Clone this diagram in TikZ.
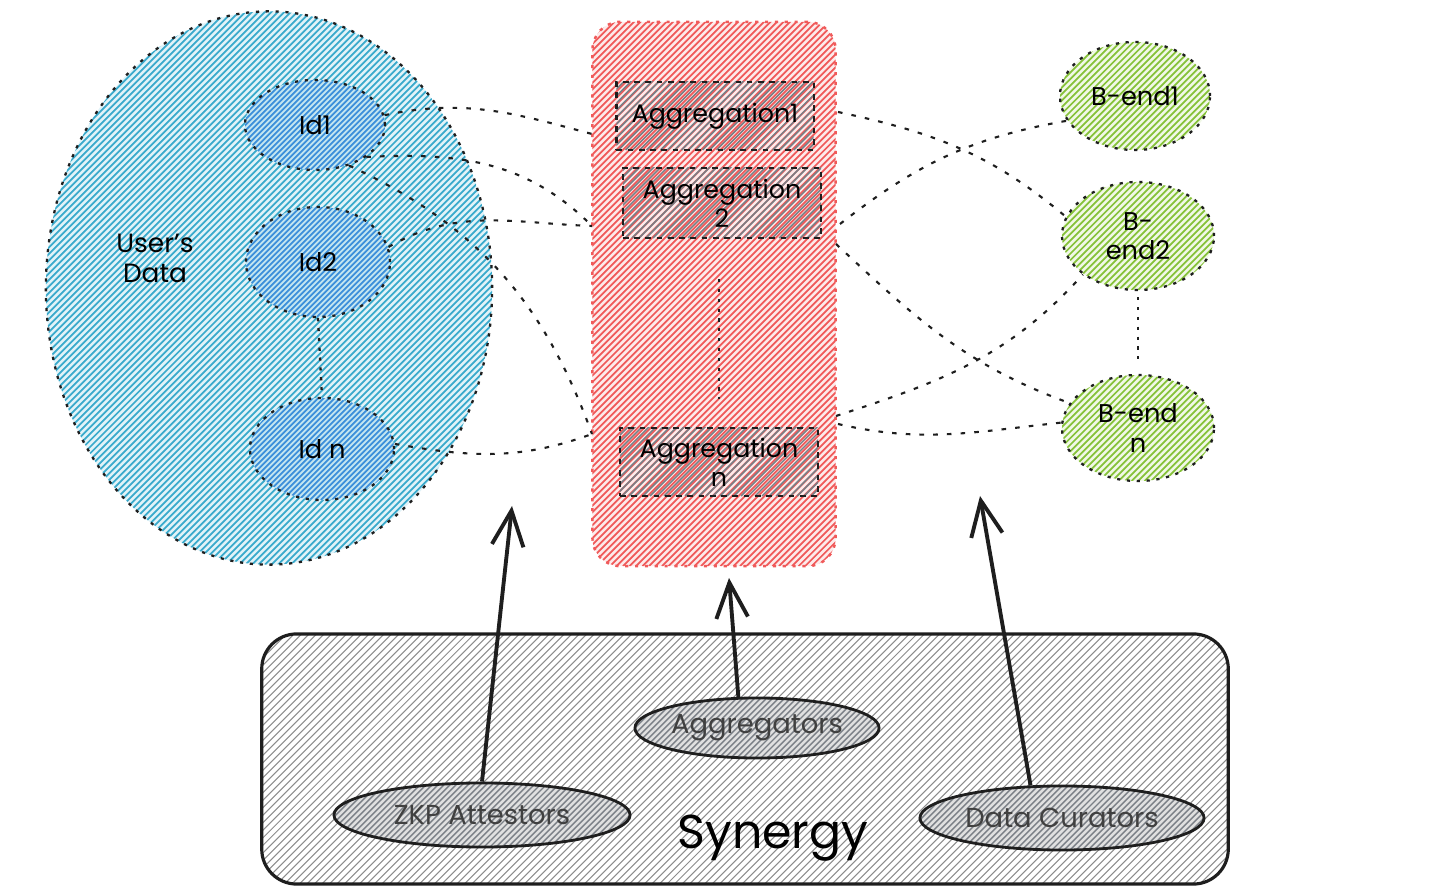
\documentclass[tikz,border=0pt]{standalone}
\usepackage{fontspec}
\setmainfont{Poppins}
\usepackage{tikz}
\usetikzlibrary{shapes.geometric, arrows.meta, calc}
\definecolor{Cyanish}  {HTML}{3AAACC}
\definecolor{CyanTint} {HTML}{E2F3F8}
\definecolor{Blueish}  {HTML}{3C8FDA}
\definecolor{Redish}   {HTML}{F05A5A}
\definecolor{RedTint}  {HTML}{FDEBEB}
\definecolor{Greenish} {HTML}{86C23A}
\definecolor{GreenTint}{HTML}{F1F8E7}
\definecolor{Greyish}  {HTML}{7A7F86}
\definecolor{Ink}      {HTML}{1E1E1E}

\tikzset{
  hatch/.style n args={4}{fill=#2, path picture={
      \foreach \k in {0,...,240}
        \draw[#1, solid, line width=#4] ([xshift=\k*#3cm-6cm]path picture bounding box.south west) -- ++(6cm,6cm);
    }},
  dotline/.style={draw=Ink, line width=0.65pt, dash pattern=on 0.9pt off 1.9pt},
  link/.style={draw=Ink, line width=0.6pt, dash pattern=on 1.3pt off 2.6pt},
  blob/.style={ellipse, inner sep=0pt, align=center, font=\fontsize{7.3}{8.3}\selectfont},
  aggbox/.style={rectangle, inner sep=0pt, align=center, minimum width=1.97cm, minimum height=0.68cm,
    hatch={Greyish}{none}{0.07}{0.45pt}, draw=Ink, line width=0.6pt, dash pattern=on 1.6pt off 1.6pt,
    font=\fontsize{7.2}{8.2}\selectfont},
  role/.style={ellipse, inner sep=0pt, draw=Ink, line width=0.8pt, hatch={Greyish}{black!12}{0.06}{0.4pt},
    text=black!75, font=\fontsize{7.8}{9}\selectfont},
  push/.style={-{Straight Barb[length=10pt,width=9pt]}, line width=1.1pt, draw=Ink}
}

\begin{document}
\begin{tikzpicture}[x=0.01cm, y=-0.01cm]
  \useasboundingbox (0,0) rectangle (1440,889);

  % user side
  \node[blob, hatch={Cyanish}{CyanTint}{0.065}{0.5pt}, dotline, minimum width=4.46cm, minimum height=5.53cm] (users) at (269,288) {};
  \node[align=center, font=\fontsize{7.5}{8.5}\selectfont] (userslabel) at (155,258) {User's\\Data};
  \node[blob, hatch={Blueish}{Cyanish!30}{0.055}{0.5pt}, dotline, minimum width=1.40cm, minimum height=0.90cm] (id1) at (315,125) {Id1};
  \node[blob, hatch={Blueish}{Cyanish!30}{0.055}{0.5pt}, dotline, minimum width=1.44cm, minimum height=1.10cm] (id2) at (318,262) {Id2};
  \node[blob, hatch={Blueish}{Cyanish!30}{0.055}{0.5pt}, dotline, minimum width=1.44cm, minimum height=1.02cm] (idn) at (322,449) {Id n};
  \draw[dotline] (id2.south) -- (idn.north);

  % aggregation column
  \node[rectangle, rounded corners=0.28cm, minimum width=2.43cm, minimum height=5.44cm,
        hatch={Redish}{RedTint}{0.065}{0.5pt}, draw=Redish, line width=0.7pt, dash pattern=on 0.9pt off 1.9pt] (aggcol) at (714,294) {};
  \node[aggbox] (agg1) at (715,116) {Aggregation1};
  \node[aggbox, minimum width=1.98cm, minimum height=0.70cm] (agg2) at (722,203) {Aggregation\\2};
  \node[aggbox, minimum width=1.98cm] (aggn) at (719,462) {Aggregation\\n};
  \draw[dotline, shorten <=0.4cm, shorten >=0.28cm] (aggn.north |- agg2.south) -- (aggn.north);

  % back ends
  \node[blob, hatch={Greenish}{GreenTint}{0.065}{0.5pt}, dotline, minimum width=1.50cm, minimum height=1.08cm] (bend1) at (1135,96) {B-end1};
  \node[blob, hatch={Greenish}{GreenTint}{0.065}{0.5pt}, dotline, minimum width=1.52cm, minimum height=1.08cm] (bend2) at (1138,236) {B-\\end2};
  \node[blob, hatch={Greenish}{GreenTint}{0.065}{0.5pt}, dotline, minimum width=1.52cm, minimum height=1.06cm] (bendn) at (1138,428) {B-end\\n};
  \draw[dotline, shorten <=0.06cm, shorten >=0.13cm] (bend2.south) -- (bendn.north);

  \coordinate (inA) at (592,134);
  \coordinate (inB) at (592,226);
  \coordinate (inC) at (592,434);
  \coordinate (outA) at (838,112);
  \coordinate (outB) at (840,224);
  \coordinate (outC) at (836,244);
  \coordinate (outD) at (836,416);
  \coordinate (outE) at (838,424);

  \draw[link] (id1.8)   to[out=12,  in=165] (inA);
  \draw[link] (id1.-32) to[out=3,   in=135] (inB);
  \draw[link] (id2.12)  to[out=30,  in=178] (inB);
  \draw[link] (id1.-50) to[out=-25, in=110] (inC);
  \draw[link] (idn.4)   to[out=-10, in=200] (inC);

  \draw[link] (outA) to[out=-12, in=140] (bend2.165);
  \draw[link] (outB) to[out=38,  in=190] (bend1.-160);
  \draw[link] (outC) to[out=-43, in=160] (bendn.160);
  \draw[link] (outD) to[out=18,  in=228] (bend2.-145);
  \draw[link] (outE) to[out=-13, in=186] (bendn.176);

  % synergy
  \node[rectangle, rounded corners=0.35cm, minimum width=9.66cm, minimum height=2.50cm, draw=Ink, line width=0.9pt,
        hatch={black!45}{none}{0.075}{0.3pt}] (syn) at (745,759) {};
  \node[font=\fontsize{13.5}{15}\selectfont] (synlabel) at (773,838) {Synergy};
  \node[role, minimum width=2.44cm, minimum height=0.60cm] (aggr) at (757,728) {Aggregators};
  \node[role, minimum width=2.96cm, minimum height=0.64cm] (zkp) at (482,815) {ZKP Attestors};
  \node[role, minimum width=2.84cm, minimum height=0.64cm] (cur) at (1062,818) {Data Curators};

  \coordinate (tipZ) at (512,506);
  \coordinate (tipA) at (729,578);
  \coordinate (tipC) at (980,496);
  \draw[push] (zkp.north) -- (tipZ);
  \draw[push] (aggr.121) -- (tipA);
  \draw[push] (cur.134) -- (tipC);
\end{tikzpicture}
\end{document}
